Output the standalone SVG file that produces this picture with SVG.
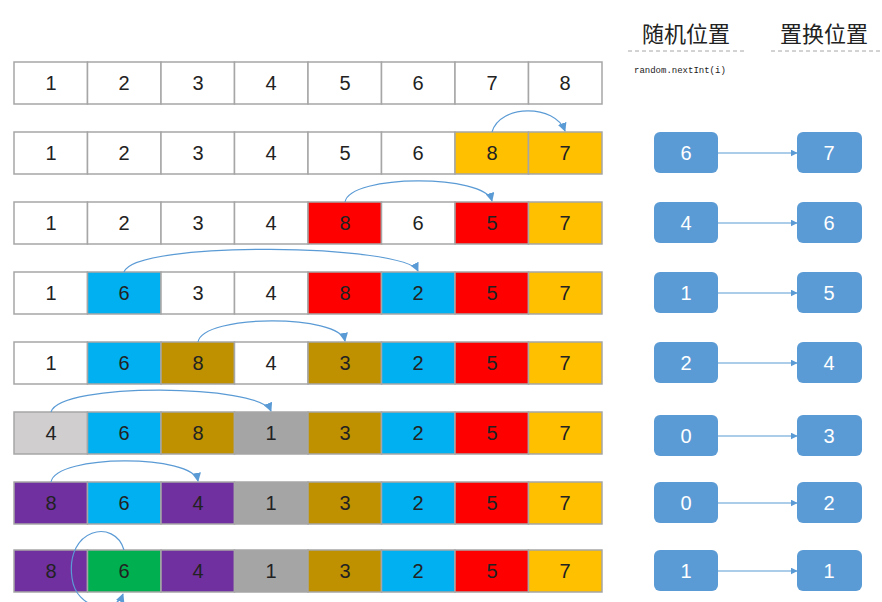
<svg xmlns="http://www.w3.org/2000/svg" width="882" height="602" viewBox="0 0 882 602">
<style>
.c{stroke:#A6A6A6;stroke-width:1.5}
.w{fill:#FFFFFF}.o{fill:#FFC000}.r{fill:#FF0000}.b{fill:#00B0F0}.g{fill:#BF9000}.l{fill:#D0CECE}.y{fill:#A5A5A5}.p{fill:#7030A0}.n{fill:#00B050}
.t{font-family:"Liberation Sans","Noto Sans",sans-serif;font-size:20px;fill:#222;text-anchor:middle}
.bx{fill:#5B9BD5}
.bt{font-family:"Liberation Sans","Noto Sans",sans-serif;font-size:20px;fill:#FFFFFF;text-anchor:middle}
.h{font-family:"Noto Sans CJK SC","Noto Sans",sans-serif;font-size:22px;fill:#222;text-anchor:middle}
.d{stroke:#A6A6A6;stroke-width:1;stroke-dasharray:4 3}
.arc{fill:none;stroke:#5B9BD5;stroke-width:1.2}
</style>
<defs>
<marker id="ah" viewBox="0 0 10 10" refX="9" refY="5" markerWidth="7" markerHeight="7" orient="auto" markerUnits="userSpaceOnUse">
<path d="M0,0 L10,5 L0,10 z" fill="#5B9BD5"/>
</marker>
<marker id="ah2" viewBox="0 0 10 10" refX="9" refY="5" markerWidth="9" markerHeight="9" orient="auto" markerUnits="userSpaceOnUse">
<path d="M0,0 L10,5 L0,10 z" fill="#5B9BD5"/>
</marker>
</defs>
<rect width="882" height="602" fill="#FFFFFF"/>
<g id="header">
<text class="h" x="686" y="42">随机位置</text>
<text class="h" x="824" y="42">置换位置</text>
<line class="d" x1="628" y1="51" x2="744" y2="51"/>
<line class="d" x1="771" y1="51" x2="880" y2="51"/>
<text x="634" y="73" font-family="Liberation Mono,DejaVu Sans Mono,monospace" font-size="9" fill="#222">random.nextInt(i)</text>
</g>
<g id="row1">
<rect class="c w" x="14" y="62" width="73.5" height="42"/><rect class="c w" x="87.5" y="62" width="73.5" height="42"/><rect class="c w" x="161" y="62" width="73.5" height="42"/><rect class="c w" x="234.5" y="62" width="73.5" height="42"/><rect class="c w" x="308" y="62" width="73.5" height="42"/><rect class="c w" x="381.5" y="62" width="73.5" height="42"/><rect class="c w" x="455" y="62" width="73.5" height="42"/><rect class="c w" x="528.5" y="62" width="73.5" height="42"/>
<text class="t" x="51" y="90">1</text><text class="t" x="124" y="90">2</text><text class="t" x="198" y="90">3</text><text class="t" x="271" y="90">4</text><text class="t" x="345" y="90">5</text><text class="t" x="418" y="90">6</text><text class="t" x="492" y="90">7</text><text class="t" x="565" y="90">8</text>
</g>
<g id="row2">
<rect class="c w" x="14" y="132" width="73.5" height="42"/><rect class="c w" x="87.5" y="132" width="73.5" height="42"/><rect class="c w" x="161" y="132" width="73.5" height="42"/><rect class="c w" x="234.5" y="132" width="73.5" height="42"/><rect class="c w" x="308" y="132" width="73.5" height="42"/><rect class="c w" x="381.5" y="132" width="73.5" height="42"/><rect class="c o" x="455" y="132" width="73.5" height="42"/><rect class="c o" x="528.5" y="132" width="73.5" height="42"/>
<text class="t" x="51" y="160">1</text><text class="t" x="124" y="160">2</text><text class="t" x="198" y="160">3</text><text class="t" x="271" y="160">4</text><text class="t" x="345" y="160">5</text><text class="t" x="418" y="160">6</text><text class="t" x="492" y="160">8</text><text class="t" x="565" y="160">7</text>
</g>
<g id="row3">
<rect class="c w" x="14" y="202" width="73.5" height="42"/><rect class="c w" x="87.5" y="202" width="73.5" height="42"/><rect class="c w" x="161" y="202" width="73.5" height="42"/><rect class="c w" x="234.5" y="202" width="73.5" height="42"/><rect class="c r" x="308" y="202" width="73.5" height="42"/><rect class="c w" x="381.5" y="202" width="73.5" height="42"/><rect class="c r" x="455" y="202" width="73.5" height="42"/><rect class="c o" x="528.5" y="202" width="73.5" height="42"/>
<text class="t" x="51" y="230">1</text><text class="t" x="124" y="230">2</text><text class="t" x="198" y="230">3</text><text class="t" x="271" y="230">4</text><text class="t" x="345" y="230">8</text><text class="t" x="418" y="230">6</text><text class="t" x="492" y="230">5</text><text class="t" x="565" y="230">7</text>
</g>
<g id="row4">
<rect class="c w" x="14" y="272" width="73.5" height="42"/><rect class="c b" x="87.5" y="272" width="73.5" height="42"/><rect class="c w" x="161" y="272" width="73.5" height="42"/><rect class="c w" x="234.5" y="272" width="73.5" height="42"/><rect class="c r" x="308" y="272" width="73.5" height="42"/><rect class="c b" x="381.5" y="272" width="73.5" height="42"/><rect class="c r" x="455" y="272" width="73.5" height="42"/><rect class="c o" x="528.5" y="272" width="73.5" height="42"/>
<text class="t" x="51" y="300">1</text><text class="t" x="124" y="300">6</text><text class="t" x="198" y="300">3</text><text class="t" x="271" y="300">4</text><text class="t" x="345" y="300">8</text><text class="t" x="418" y="300">2</text><text class="t" x="492" y="300">5</text><text class="t" x="565" y="300">7</text>
</g>
<g id="row5">
<rect class="c w" x="14" y="342" width="73.5" height="42"/><rect class="c b" x="87.5" y="342" width="73.5" height="42"/><rect class="c g" x="161" y="342" width="73.5" height="42"/><rect class="c w" x="234.5" y="342" width="73.5" height="42"/><rect class="c g" x="308" y="342" width="73.5" height="42"/><rect class="c b" x="381.5" y="342" width="73.5" height="42"/><rect class="c r" x="455" y="342" width="73.5" height="42"/><rect class="c o" x="528.5" y="342" width="73.5" height="42"/>
<text class="t" x="51" y="370">1</text><text class="t" x="124" y="370">6</text><text class="t" x="198" y="370">8</text><text class="t" x="271" y="370">4</text><text class="t" x="345" y="370">3</text><text class="t" x="418" y="370">2</text><text class="t" x="492" y="370">5</text><text class="t" x="565" y="370">7</text>
</g>
<g id="row6">
<rect class="c l" x="14" y="412" width="73.5" height="42"/><rect class="c b" x="87.5" y="412" width="73.5" height="42"/><rect class="c g" x="161" y="412" width="73.5" height="42"/><rect class="c y" x="234.5" y="412" width="73.5" height="42"/><rect class="c g" x="308" y="412" width="73.5" height="42"/><rect class="c b" x="381.5" y="412" width="73.5" height="42"/><rect class="c r" x="455" y="412" width="73.5" height="42"/><rect class="c o" x="528.5" y="412" width="73.5" height="42"/>
<text class="t" x="51" y="440">4</text><text class="t" x="124" y="440">6</text><text class="t" x="198" y="440">8</text><text class="t" x="271" y="440">1</text><text class="t" x="345" y="440">3</text><text class="t" x="418" y="440">2</text><text class="t" x="492" y="440">5</text><text class="t" x="565" y="440">7</text>
</g>
<g id="row7">
<rect class="c p" x="14" y="482" width="73.5" height="42"/><rect class="c b" x="87.5" y="482" width="73.5" height="42"/><rect class="c p" x="161" y="482" width="73.5" height="42"/><rect class="c y" x="234.5" y="482" width="73.5" height="42"/><rect class="c g" x="308" y="482" width="73.5" height="42"/><rect class="c b" x="381.5" y="482" width="73.5" height="42"/><rect class="c r" x="455" y="482" width="73.5" height="42"/><rect class="c o" x="528.5" y="482" width="73.5" height="42"/>
<text class="t" x="51" y="510">8</text><text class="t" x="124" y="510">6</text><text class="t" x="198" y="510">4</text><text class="t" x="271" y="510">1</text><text class="t" x="345" y="510">3</text><text class="t" x="418" y="510">2</text><text class="t" x="492" y="510">5</text><text class="t" x="565" y="510">7</text>
</g>
<g id="row8">
<rect class="c p" x="14" y="550" width="73.5" height="42"/><rect class="c n" x="87.5" y="550" width="73.5" height="42"/><rect class="c p" x="161" y="550" width="73.5" height="42"/><rect class="c y" x="234.5" y="550" width="73.5" height="42"/><rect class="c g" x="308" y="550" width="73.5" height="42"/><rect class="c b" x="381.5" y="550" width="73.5" height="42"/><rect class="c r" x="455" y="550" width="73.5" height="42"/><rect class="c o" x="528.5" y="550" width="73.5" height="42"/>
<text class="t" x="51" y="578">8</text><text class="t" x="124" y="578">6</text><text class="t" x="198" y="578">4</text><text class="t" x="271" y="578">1</text><text class="t" x="345" y="578">3</text><text class="t" x="418" y="578">2</text><text class="t" x="492" y="578">5</text><text class="t" x="565" y="578">7</text>
</g>
<g id="pair1"><rect class="bx" x="654" y="132" width="64" height="41" rx="6"/><text class="bt" x="686" y="160">6</text><rect class="bx" x="797" y="132" width="65" height="41" rx="6"/><text class="bt" x="829" y="160">7</text></g>
<g id="pair2"><rect class="bx" x="654" y="202" width="64" height="41" rx="6"/><text class="bt" x="686" y="230">4</text><rect class="bx" x="797" y="202" width="65" height="41" rx="6"/><text class="bt" x="829" y="230">6</text></g>
<g id="pair3"><rect class="bx" x="654" y="272" width="64" height="41" rx="6"/><text class="bt" x="686" y="300">1</text><rect class="bx" x="797" y="272" width="65" height="41" rx="6"/><text class="bt" x="829" y="300">5</text></g>
<g id="pair4"><rect class="bx" x="654" y="342" width="64" height="41" rx="6"/><text class="bt" x="686" y="370">2</text><rect class="bx" x="797" y="342" width="65" height="41" rx="6"/><text class="bt" x="829" y="370">4</text></g>
<g id="pair5"><rect class="bx" x="654" y="415" width="64" height="41" rx="6"/><text class="bt" x="686" y="443">0</text><rect class="bx" x="797" y="415" width="65" height="41" rx="6"/><text class="bt" x="829" y="443">3</text></g>
<g id="pair6"><rect class="bx" x="654" y="482" width="64" height="41" rx="6"/><text class="bt" x="686" y="510">0</text><rect class="bx" x="797" y="482" width="65" height="41" rx="6"/><text class="bt" x="829" y="510">2</text></g>
<g id="pair7"><rect class="bx" x="654" y="550" width="64" height="41" rx="6"/><text class="bt" x="686" y="578">1</text><rect class="bx" x="797" y="550" width="65" height="41" rx="6"/><text class="bt" x="829" y="578">1</text></g>
<g id="connectors">
<line class="arc" x1="718" y1="153" x2="797" y2="153" marker-end="url(#ah)"/>
<line class="arc" x1="718" y1="223" x2="797" y2="223" marker-end="url(#ah)"/>
<line class="arc" x1="718" y1="293" x2="797" y2="293" marker-end="url(#ah)"/>
<line class="arc" x1="718" y1="363" x2="797" y2="363" marker-end="url(#ah)"/>
<line class="arc" x1="718" y1="436" x2="797" y2="436" marker-end="url(#ah)"/>
<line class="arc" x1="718" y1="503" x2="797" y2="503" marker-end="url(#ah)"/>
<line class="arc" x1="718" y1="571" x2="797" y2="571" marker-end="url(#ah)"/>
<path class="arc" d="M492,132 C500,104 555,104 565,131" marker-end="url(#ah2)"/>
<path class="arc" d="M345,202 C350,174 485,174 492,201" marker-end="url(#ah2)"/>
<path class="arc" d="M124,272 C135,240 405,244 418,271" marker-end="url(#ah2)"/>
<path class="arc" d="M198,342 C203,314 340,314 345,341" marker-end="url(#ah2)"/>
<path class="arc" d="M51,412 C60,382 260,384 271,411" marker-end="url(#ah2)"/>
<path class="arc" d="M51,482 C56,454 193,454 198,481" marker-end="url(#ah2)"/>
<path class="arc" d="M124,550 C115,518 65,528 72,578 C76,610 115,615 123,594" marker-end="url(#ah2)"/>
</g>
</svg>
